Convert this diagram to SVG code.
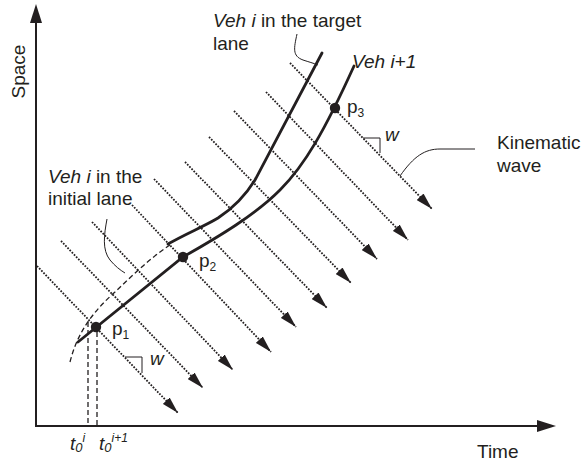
<svg xmlns="http://www.w3.org/2000/svg" width="585" height="474" viewBox="0 0 585 474">
<defs>
<style>
text{font-family:"Liberation Sans",Arial,sans-serif;font-size:19px;fill:#231f20}
.it{font-style:italic}
.axis{stroke:#231f20;stroke-width:2;fill:none}
.wave{stroke:#231f20;stroke-width:1.8;stroke-dasharray:1.7 1.4;fill:none;marker-end:url(#ah)}
.traj{stroke:#231f20;stroke-width:2.8;fill:none;stroke-linecap:round}
.dash{stroke:#231f20;stroke-width:1.3;stroke-dasharray:5 3;fill:none}
.thin{stroke:#231f20;stroke-width:1;fill:none}
</style>
<marker id="ah" markerUnits="userSpaceOnUse" markerWidth="18" markerHeight="10" refX="17" refY="5" orient="auto" viewBox="0 0 18 10">
<path d="M0,0.3 L17,5 L0,9.7 Z" fill="#231f20"/>
</marker>
</defs>
<rect width="585" height="474" fill="#fff"/>

<g id="axes">
<line class="axis" x1="36" y1="427" x2="36" y2="20"/>
<polygon points="36,4 30,23 42,23" fill="#231f20"/>
<line class="axis" x1="35" y1="426" x2="540" y2="426"/>
<polygon points="556,426 537,420 537,432" fill="#231f20"/>
<text transform="translate(25,71.5) rotate(-90)" text-anchor="middle">Space</text>
<text x="477" y="458">Time</text>
</g>

<g id="connectors">
<line class="wave" x1="37" y1="266" x2="178" y2="413"/>
<line class="wave" x1="61" y1="241" x2="203" y2="388"/>
<line class="wave" x1="92" y1="222" x2="233" y2="370"/>
<line class="wave" x1="132" y1="205" x2="271" y2="352"/>
<line class="wave" x1="154" y1="179" x2="296" y2="327"/>
<line class="wave" x1="185" y1="162" x2="327" y2="308"/>
<line class="wave" x1="209" y1="137" x2="351" y2="283"/>
<line class="wave" x1="234" y1="111" x2="377" y2="259"/>
<line class="wave" x1="266" y1="92" x2="408" y2="240"/>
<line class="wave" x1="290" y1="63" x2="432" y2="209"/>
<path class="thin" d="M125,357 H142 V373"/>
<path class="thin" d="M363,138 H380 V153"/>
<path class="thin" d="M297,34 C294,48 292,56 303,60 C309,62 313,63 318,65"/>
<path class="thin" d="M107,219 C104,235 102,250 110,260 C115,266 120,270 125,273"/>
<path class="thin" d="M475,149 L440,149 C425,149 414,156 400,176"/>
<line class="dash" x1="88" y1="322" x2="88" y2="426"/>
<line class="dash" x1="97" y1="332" x2="97" y2="426"/>
</g>

<g id="veh-i-initial">
<path class="dash" d="M70,362 C78,330 95,310 115,292 C132,276 150,258 170,245"/>
<text x="48" y="183"><tspan class="it">Veh i</tspan> in the</text>
<text x="48" y="205">initial lane</text>
</g>

<g id="veh-i-target">
<path class="traj" d="M168,244 C185,234 205,226 218,218 C235,207 247,193 255,180 L322,53"/>
<text x="213" y="27"><tspan class="it">Veh i</tspan> in the target</text>
<text x="213" y="50">lane</text>
</g>

<g id="veh-i1">
<path class="traj" d="M78,342 L183,257 C220,236 255,215 280,190 C305,165 325,130 354,66"/>
<text x="352" y="68" class="it">Veh i+1</text>
</g>

<g id="p1">
<circle cx="96" cy="327" r="5.2" fill="#231f20"/>
<text x="112" y="335" font-size="17">p<tspan font-size="12" dy="4">1</tspan></text>
</g>
<g id="p2">
<circle cx="183" cy="257" r="5.2" fill="#231f20"/>
<text x="199" y="267" font-size="17">p<tspan font-size="12" dy="4">2</tspan></text>
</g>
<g id="p3">
<circle cx="335" cy="108" r="5.2" fill="#231f20"/>
<text x="347" y="113" font-size="17">p<tspan font-size="12" dy="4">3</tspan></text>
</g>

<g id="wave-labels">
<text x="150" y="365" class="it">w</text>
<text x="385" y="141" class="it">w</text>
<text x="497" y="149">Kinematic</text>
<text x="497" y="172">wave</text>
</g>

<g id="t-labels">
<text x="70" y="450" class="it" font-size="18">t<tspan font-size="13" dy="2">0</tspan><tspan font-size="12" dy="-10">i</tspan></text>
<text x="99" y="450" class="it" font-size="18">t<tspan font-size="13" dy="2">0</tspan><tspan font-size="12" dy="-10">i+1</tspan></text>
</g>
</svg>
